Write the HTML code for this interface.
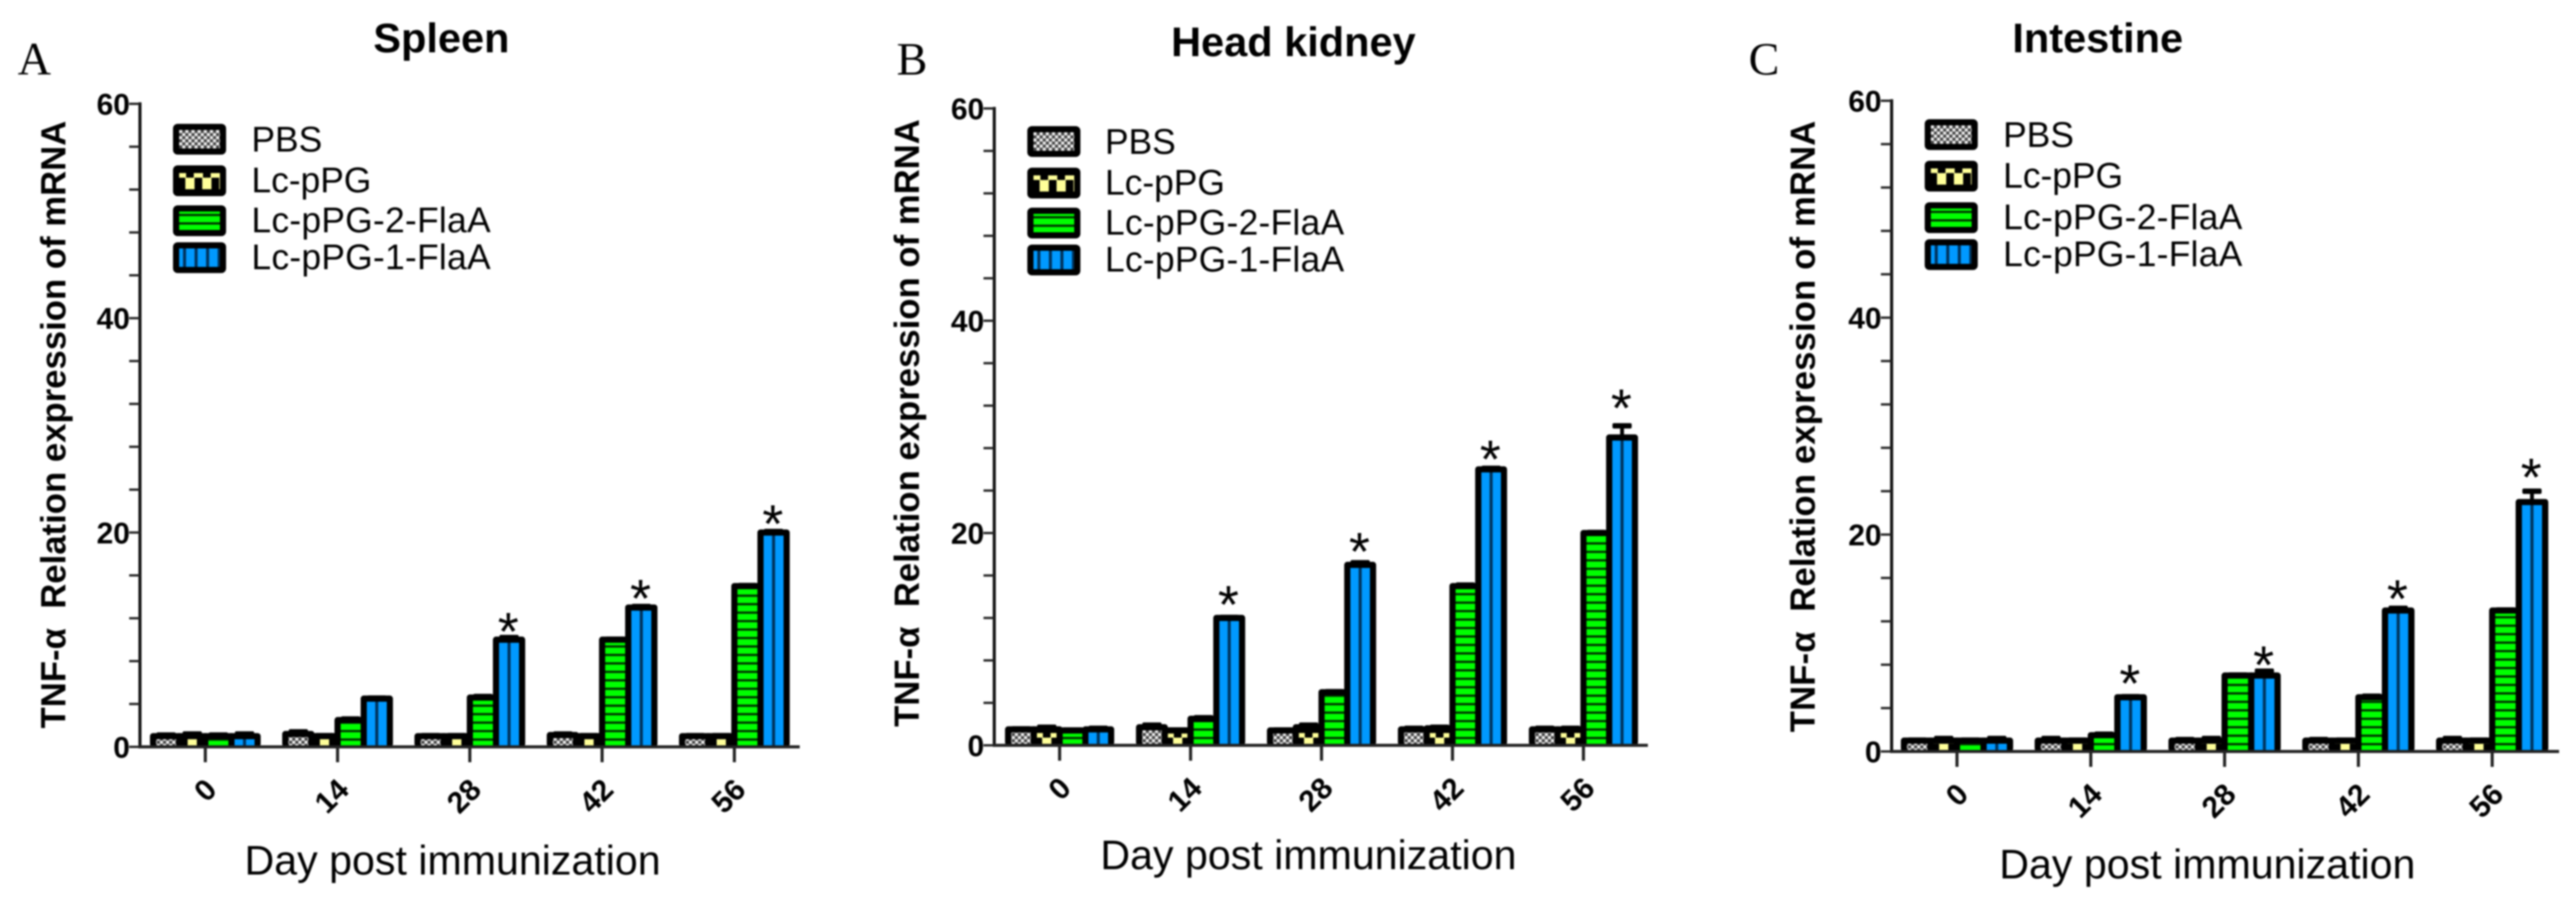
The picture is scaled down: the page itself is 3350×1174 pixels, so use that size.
<!DOCTYPE html>
<html lang="en">
<head>
<meta charset="utf-8">
<title>TNF-α relative expression of mRNA</title>
<style>
html,body{margin:0;padding:0;background:#fff;width:3350px;height:1174px;overflow:hidden}
svg{display:block;filter:blur(1px)}
text{font-family:"Liberation Sans",Arial,sans-serif;fill:#000}
.letter{font-family:"Liberation Serif",serif;font-size:60px}
.title{font-size:54px;font-weight:bold;text-anchor:middle}
.ytitle{font-size:45px;font-weight:bold}
.xtitle{font-size:53.5px}
.leg{font-size:46px}
.tick{font-size:39px;font-weight:bold}
</style>
</head>
<body>
<svg id="figure" xmlns="http://www.w3.org/2000/svg" width="3350" height="1174" viewBox="0 0 3350 1174">
<defs>
<pattern id="p0" patternUnits="userSpaceOnUse" x="0" y="0" width="8" height="8"><rect width="8" height="8" fill="#444"/><rect width="4" height="4" fill="#eee"/><rect x="4" y="4" width="4" height="4" fill="#eee"/></pattern>
<pattern id="p1" patternUnits="userSpaceOnUse" x="-11" y="-26" width="22" height="26"><rect width="22" height="26" fill="#000"/><rect x="5" y="16" width="12" height="10" fill="#ffff99"/><rect x="0" y="10" width="6" height="6" fill="#ffff99"/><rect x="16" y="10" width="6" height="6" fill="#ffff99"/><rect x="5" y="0" width="12" height="5" fill="#ffff99"/></pattern>
<pattern id="p2" patternUnits="userSpaceOnUse" x="0" y="0" width="10" height="11"><rect width="10" height="11" fill="#00ff00"/><rect y="0" width="10" height="3" fill="#003300"/></pattern>
<pattern id="p3" patternUnits="userSpaceOnUse" x="-7.5" y="0" width="15" height="10"><rect width="15" height="10" fill="#0099ff"/><rect x="5.5" width="4" height="10" fill="#00335c"/></pattern>
</defs>

<g id="panel-a">
<text class="letter" x="23" y="97">A</text>
<text class="title" x="574" y="68">Spleen</text>
<text class="ytitle" transform="translate(85,947) rotate(-90)" textLength="790" lengthAdjust="spacing" xml:space="preserve">TNF-α  Relation expression of mRNA</text>
<text class="xtitle" x="318" y="1137">Day post immunization</text>
<g>
<g transform="translate(225,161)"><rect width="69" height="40" rx="6" fill="#000"/><rect x="8" y="8" width="53" height="24" fill="url(#p0)"/></g>
<text class="leg" x="327" y="197">PBS</text>
<g transform="translate(225,215)"><rect width="69" height="40" rx="6" fill="#000"/><rect x="8" y="8" width="53" height="24" fill="url(#p1)"/></g>
<text class="leg" x="327" y="250">Lc-pPG</text>
<g transform="translate(225,267)"><rect width="69" height="40" rx="6" fill="#000"/><rect x="8" y="8" width="53" height="24" fill="url(#p2)"/></g>
<text class="leg" x="327" y="302" textLength="311">Lc-pPG-2-FlaA</text>
<g transform="translate(225,315)"><rect width="69" height="40" rx="6" fill="#000"/><rect x="8" y="8" width="53" height="24" fill="url(#p3)"/></g>
<text class="leg" x="327" y="350" textLength="311">Lc-pPG-1-FlaA</text>
</g>
</g>

<g id="panel-b">
<text class="letter" x="1166" y="97">B</text>
<text class="title" x="1682" y="73">Head kidney</text>
<text class="ytitle" transform="translate(1195,945) rotate(-90)" textLength="790" lengthAdjust="spacing" xml:space="preserve">TNF-α  Relation expression of mRNA</text>
<text class="xtitle" x="1431" y="1130">Day post immunization</text>
<g>
<g transform="translate(1336,164)"><rect width="69" height="40" rx="6" fill="#000"/><rect x="8" y="8" width="53" height="24" fill="url(#p0)"/></g>
<text class="leg" x="1437" y="200">PBS</text>
<g transform="translate(1336,218)"><rect width="69" height="40" rx="6" fill="#000"/><rect x="8" y="8" width="53" height="24" fill="url(#p1)"/></g>
<text class="leg" x="1437" y="253">Lc-pPG</text>
<g transform="translate(1336,270)"><rect width="69" height="40" rx="6" fill="#000"/><rect x="8" y="8" width="53" height="24" fill="url(#p2)"/></g>
<text class="leg" x="1437" y="305" textLength="311">Lc-pPG-2-FlaA</text>
<g transform="translate(1336,318)"><rect width="69" height="40" rx="6" fill="#000"/><rect x="8" y="8" width="53" height="24" fill="url(#p3)"/></g>
<text class="leg" x="1437" y="353" textLength="311">Lc-pPG-1-FlaA</text>
</g>
</g>

<g id="panel-c">
<text class="letter" x="2274" y="97">C</text>
<text class="title" x="2728" y="68">Intestine</text>
<text class="ytitle" transform="translate(2360,952) rotate(-90)" textLength="795" lengthAdjust="spacing" xml:space="preserve">TNF-α  Relation expression of mRNA</text>
<text class="xtitle" x="2600" y="1142">Day post immunization</text>
<g>
<g transform="translate(2503,155)"><rect width="69" height="40" rx="6" fill="#000"/><rect x="8" y="8" width="53" height="24" fill="url(#p0)"/></g>
<text class="leg" x="2605" y="191">PBS</text>
<g transform="translate(2503,209)"><rect width="69" height="40" rx="6" fill="#000"/><rect x="8" y="8" width="53" height="24" fill="url(#p1)"/></g>
<text class="leg" x="2605" y="244">Lc-pPG</text>
<g transform="translate(2503,263)"><rect width="69" height="40" rx="6" fill="#000"/><rect x="8" y="8" width="53" height="24" fill="url(#p2)"/></g>
<text class="leg" x="2605" y="298" textLength="311">Lc-pPG-2-FlaA</text>
<g transform="translate(2503,311)"><rect width="69" height="40" rx="6" fill="#000"/><rect x="8" y="8" width="53" height="24" fill="url(#p3)"/></g>
<text class="leg" x="2605" y="346" textLength="311">Lc-pPG-1-FlaA</text>
</g>
</g>
</svg>

<script>
// Shared categories and axis labels
const categories = ['0', '14', '28', '42', '56'];
const yTickLabels = [0, 20, 40, 60];
const yMinorStep = 4;
const yMax = 60;

// Spleen values
const spleenPBS = [1, 1.2, 1, 1.1, 1];
const spleenPPG = [1, 1, 1, 1, 1];
const spleenFla2 = [1, 2.5, 4.6, 10, 15];
const spleenFla1 = [1, 4.5, 10, 13, 20];
const spleenPBSErr = [0.1, 0.2, 0.05, 0.1, 0.05];
const spleenPPGErr = [0.2, 0.05, 0.05, 0.05, 0.05];
const spleenFla2Err = [0.1, 0.1, 0.1, 0.05, 0.05];
const spleenFla1Err = [0.2, 0.05, 0.2, 0.1, 0.1];
const spleenStars = [null, null, 11.7, 14.8, 21.75];

// Head kidney values
const kidneyPBS = [1.5, 1.7, 1.4, 1.5, 1.5];
const kidneyPPG = [1.5, 1.4, 1.7, 1.6, 1.5];
const kidneyFla2 = [1.4, 2.5, 5, 15, 20];
const kidneyFla1 = [1.5, 12, 17, 26, 29];
const kidneyPBSErr = [0.05, 0.2, 0.05, 0.1, 0.1];
const kidneyPPGErr = [0.2, 0.05, 0.2, 0.1, 0.1];
const kidneyFla2Err = [0.05, 0.1, 0.05, 0.1, 0.05];
const kidneyFla1Err = [0.1, 0.05, 0.2, 0.1, 1.1];
const kidneyStars = [null, 14.2, 19.2, 27.9, 32.7];

// Intestine values
const intestinePBS = [1, 1, 1, 1, 1];
const intestinePPG = [1, 1, 1, 1, 1];
const intestineFla2 = [1, 1.5, 7, 5, 13];
const intestineFla1 = [1, 5, 7, 13, 23];
const intestinePBSErr = [0.05, 0.2, 0.1, 0.1, 0.2];
const intestinePPGErr = [0.2, 0.05, 0.2, 0.05, 0.05];
const intestineFla2Err = [0.05, 0.1, 0.05, 0.1, 0.05];
const intestineFla1Err = [0.2, 0.05, 0.4, 0.2, 1];
const intestineStars = [null, 7.2, 8.9, 15, 26.2];

const SVGNS = 'http://www.w3.org/2000/svg';

function mk(tag, attrs, parent) {
  const el = document.createElementNS(SVGNS, tag);
  for (const k in attrs) el.setAttribute(k, attrs[k]);
  parent.appendChild(el);
  return el;
}

function drawPanel(host, frame, series, errors, stars) {
  const yOf = v => frame.y0 - v * (frame.y0 - frame.y60) / yMax;
  const groupX = i => frame.x0 + i * frame.dx;
  const barX = (i, s) => groupX(i) + (s - 1.5) * frame.step;
  const stroke = 8;

  // bars first, so axes sit on top
  series.forEach((vals, s) => {
    vals.forEach((v, i) => {
      const g = mk('g', {transform: 'translate(' + barX(i, s) + ',' + frame.y0 + ')'}, host);
      
      
      const top = yOf(v) - frame.y0;
      const half = frame.step / 2;
      const capY = yOf(v + errors[s][i]) - frame.y0;
      mk('rect', {x: -2.5, y: capY, width: 5, height: top - capY + 4, fill: '#000'}, g);
      mk('rect', {x: -12.5, y: capY - 3.5, width: 25, height: 7, rx: 2, fill: '#000'}, g);
      mk('rect', {x: -half - stroke / 2, y: top - stroke / 2, width: frame.step + stroke, height: -top + stroke / 2, rx: 4, fill: '#000'}, g);
      const innerH = -top - stroke / 2 - 1;
      if (innerH > 0) {
        mk('rect', {x: -half + stroke / 2, y: top + stroke / 2, width: frame.step - stroke, height: innerH, fill: 'url(#p' + s + ')'}, g);
      }
    });
  });

  // significance stars, placed at the level
  stars.forEach((level, i) => {
    if (level === null) return;
    const star = mk('text', {x: barX(i, 3) - 1, y: yOf(level) + 37, 'text-anchor': 'middle', 'font-size': 70}, host);
    
    
    star.textContent = '*';
  });

  // y axis
  const yAxis = mk('line', {x1: frame.axisX, x2: frame.axisX, y1: yOf(yMax) - 2, y2: frame.y0 + 2, stroke: '#111', 'stroke-width': 4}, host);
  
  
  for (let v = 0; v <= yMax; v += yMinorStep) {
    const t = mk('line', {x1: frame.axisX - 14, x2: frame.axisX, y1: yOf(v), y2: yOf(v), stroke: '#222', 'stroke-width': 3}, host);
    
    
  }
  yTickLabels.forEach(v => {
    const t = mk('text', {x: frame.axisX - 13, y: yOf(v) + 14, 'text-anchor': 'end', 'class': 'tick'}, host);
    
    
    t.textContent = v;
  });

  // x axis
  const xAxis = mk('line', {x1: frame.axisX - 2, x2: frame.xEnd, y1: frame.y0, y2: frame.y0, stroke: '#222', 'stroke-width': 4}, host);
  
  
  categories.forEach((c, i) => {
    const t = mk('line', {x1: groupX(i), x2: groupX(i), y1: frame.y0, y2: frame.y0 + 20, stroke: '#222', 'stroke-width': 4}, host);
    
    
    const lx = groupX(i) + 17;
    const ly = frame.y0 + 58;
    const label = mk('text', {'class': 'tick', 'text-anchor': 'end', transform: 'translate(' + lx + ',' + ly + ') rotate(-45)'}, host);
    
    
    label.textContent = c;
  });
}

drawPanel(document.getElementById('panel-a'),
  {axisX: 182, y0: 971, y60: 135, x0: 267, dx: 172, step: 34, xEnd: 1040},
  [spleenPBS, spleenPPG, spleenFla2, spleenFla1],
  [spleenPBSErr, spleenPPGErr, spleenFla2Err, spleenFla1Err],
  spleenStars);

drawPanel(document.getElementById('panel-b'),
  {axisX: 1293, y0: 969, y60: 141, x0: 1378, dx: 170.3, step: 33.5, xEnd: 2143},
  [kidneyPBS, kidneyPPG, kidneyFla2, kidneyFla1],
  [kidneyPBSErr, kidneyPPGErr, kidneyFla2Err, kidneyFla1Err],
  kidneyStars);

drawPanel(document.getElementById('panel-c'),
  {axisX: 2460, y0: 977, y60: 131, x0: 2545, dx: 174, step: 34.5, xEnd: 3328},
  [intestinePBS, intestinePPG, intestineFla2, intestineFla1],
  [intestinePBSErr, intestinePPGErr, intestineFla2Err, intestineFla1Err],
  intestineStars);
</script>
</body>
</html>
